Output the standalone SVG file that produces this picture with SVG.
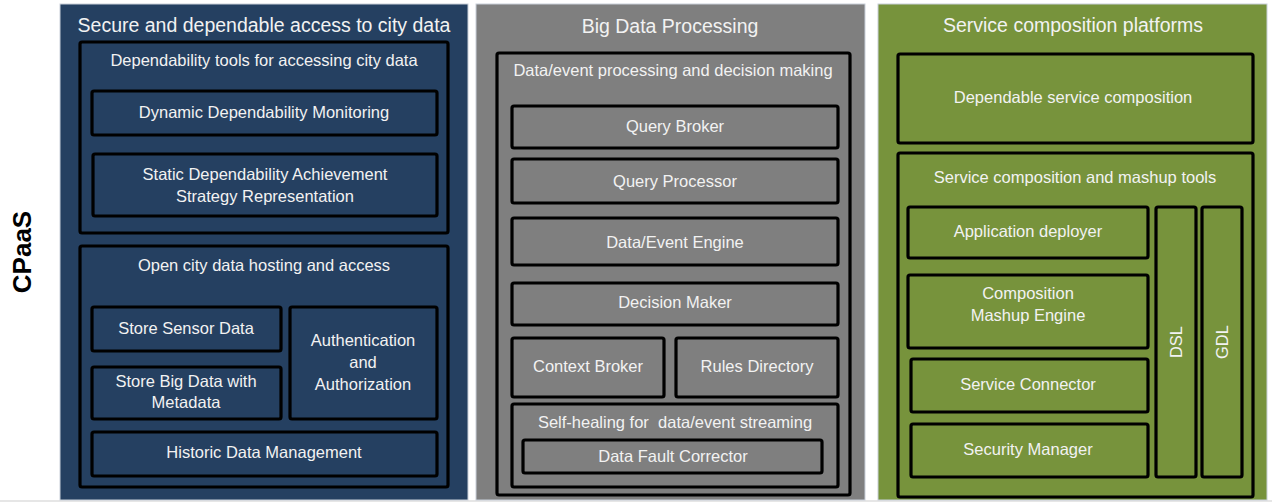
<svg xmlns="http://www.w3.org/2000/svg" width="1272" height="502" viewBox="0 0 1272 502">
<style>
.panel{stroke:#c9d0da;stroke-width:1}
.box{fill:none;stroke:#000;stroke-width:3.2}
text{font-family:"Liberation Sans",Arial,sans-serif;fill:#f2f2f2;text-anchor:middle}
.t{font-size:19.5px}
.s{font-size:16.5px}
.cp{font-size:26px;font-weight:bold;fill:#000}
</style>
<rect x="0" y="0" width="1272" height="502" fill="#ffffff"/>
<rect x="0" y="500" width="1272" height="2" fill="#e6e6e6"/>
<text class="cp" transform="translate(31,252) rotate(-90)">CPaaS</text>

<g id="panel-secure">
<rect class="panel" x="60" y="4" width="408" height="496" fill="#254061"/>
<text class="t" x="264" y="32">Secure and dependable access to city data</text>
</g>
<g id="dependability-tools">
<rect class="box" x="80" y="42" width="368" height="191" rx="2"/>
<text class="s" x="264" y="66">Dependability tools for accessing city data</text>
</g>
<g id="dynamic-monitoring">
<rect class="box" x="92" y="91" width="345" height="44" rx="2"/>
<text class="s" x="264" y="118">Dynamic Dependability Monitoring</text>
</g>
<g id="static-dependability">
<rect class="box" x="93" y="154" width="344" height="62" rx="2"/>
<text class="s" x="265" y="180">Static Dependability Achievement</text>
<text class="s" x="265" y="202">Strategy Representation</text>
</g>
<g id="open-city-data">
<rect class="box" x="80" y="246" width="368" height="241" rx="2"/>
<text class="s" x="264" y="271">Open city data hosting and access</text>
</g>
<g id="store-sensor">
<rect class="box" x="92" y="307" width="189" height="44" rx="2"/>
<text class="s" x="186" y="334">Store Sensor Data</text>
</g>
<g id="store-big-data">
<rect class="box" x="92" y="367" width="189" height="52" rx="2"/>
<text class="s" x="186" y="387">Store Big Data with</text>
<text class="s" x="186" y="408">Metadata</text>
</g>
<g id="auth">
<rect class="box" x="290" y="307" width="147" height="112" rx="2"/>
<text class="s" x="363" y="346">Authentication</text>
<text class="s" x="363" y="368">and</text>
<text class="s" x="363" y="390">Authorization</text>
</g>
<g id="historic">
<rect class="box" x="92" y="432" width="345" height="44" rx="2"/>
<text class="s" x="264" y="458">Historic Data Management</text>
</g>

<g id="panel-bigdata">
<rect class="panel" x="476" y="4" width="389" height="496" fill="#7f7f7f"/>
<text class="t" x="670" y="33">Big Data Processing</text>
</g>
<g id="event-processing">
<rect class="box" x="497" y="53" width="353" height="442" rx="2"/>
<text class="s" x="673" y="76">Data/event processing and decision making</text>
</g>
<g id="query-broker">
<rect class="box" x="512" y="106" width="326" height="42" rx="2"/>
<text class="s" x="675" y="132">Query Broker</text>
</g>
<g id="query-processor">
<rect class="box" x="512" y="159" width="326" height="44" rx="2"/>
<text class="s" x="675" y="187">Query Processor</text>
</g>
<g id="event-engine">
<rect class="box" x="512" y="218" width="326" height="47" rx="2"/>
<text class="s" x="675" y="248">Data/Event Engine</text>
</g>
<g id="decision-maker">
<rect class="box" x="512" y="283" width="326" height="42" rx="2"/>
<text class="s" x="675" y="308">Decision Maker</text>
</g>
<g id="context-broker">
<rect class="box" x="512" y="338" width="152" height="59" rx="2"/>
<text class="s" x="588" y="372">Context Broker</text>
</g>
<g id="rules-directory">
<rect class="box" x="676" y="338" width="162" height="59" rx="2"/>
<text class="s" x="757" y="372">Rules Directory</text>
</g>
<g id="self-healing">
<rect class="box" x="512" y="404" width="326" height="83" rx="2"/>
<text class="s" x="675" y="428">Self-healing for&#160; data/event streaming</text>
</g>
<g id="fault-corrector">
<rect class="box" x="523" y="440" width="299" height="33" rx="2"/>
<text class="s" x="673" y="462">Data Fault Corrector</text>
</g>

<g id="panel-service">
<rect class="panel" x="878" y="4" width="389" height="496" fill="#77933c"/>
<text class="t" x="1073" y="32">Service composition platforms</text>
</g>
<g id="dependable-composition">
<rect class="box" x="898" y="54" width="355" height="89" rx="2"/>
<text class="s" x="1073" y="103">Dependable service composition</text>
</g>
<g id="mashup-tools">
<rect class="box" x="898" y="153" width="355" height="344" rx="2"/>
<text class="s" x="1075" y="183">Service composition and mashup tools</text>
</g>
<g id="app-deployer">
<rect class="box" x="908" y="207" width="240" height="51" rx="2"/>
<text class="s" x="1028" y="237">Application deployer</text>
</g>
<g id="mashup-engine">
<rect class="box" x="908" y="275" width="240" height="73" rx="2"/>
<text class="s" x="1028" y="299">Composition</text>
<text class="s" x="1028" y="321">Mashup Engine</text>
</g>
<g id="service-connector">
<rect class="box" x="911" y="359" width="237" height="53" rx="2"/>
<text class="s" x="1028" y="390">Service Connector</text>
</g>
<g id="security-manager">
<rect class="box" x="911" y="424" width="237" height="53" rx="2"/>
<text class="s" x="1028" y="455">Security Manager</text>
</g>
<g id="dsl">
<rect class="box" x="1156" y="207" width="40" height="270" rx="2"/>
<text class="s" transform="translate(1182,342) rotate(-90)">DSL</text>
</g>
<g id="gdl">
<rect class="box" x="1202" y="207" width="40" height="270" rx="2"/>
<text class="s" transform="translate(1228,342) rotate(-90)">GDL</text>
</g>
<g id="connectors"></g>
</svg>
